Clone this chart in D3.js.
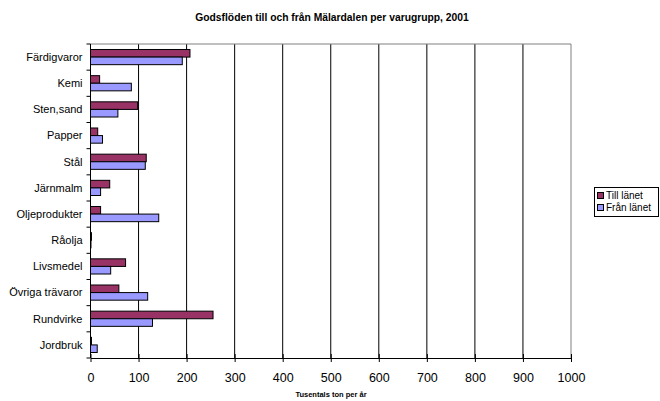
<!DOCTYPE html>
<html><head><meta charset="utf-8">
<script src="https://cdn.jsdelivr.net/npm/d3@7"></script>
<style>body{margin:0;background:#fff;} svg{display:block;font-family:Arial,"Liberation Sans",sans-serif;}</style>
</head><body>
<svg id="c" width="660" height="401"></svg>
<script>
const categories = ["Färdigvaror","Kemi","Sten,sand","Papper","Stål","Järnmalm","Oljeprodukter","Råolja","Livsmedel","Övriga trävaror","Rundvirke","Jordbruk"];
const tillLanet = [207, 19, 98, 15, 116, 40, 21, 2, 73, 59, 255, 2];
const franLanet = [191, 85, 57, 25, 114, 21, 142, 1, 42, 119, 129, 14];
const seriesNames = ["Till länet","Från länet"];
const seriesColors = ["#993366","#9999FF"];
const xTicks = [0,100,200,300,400,500,600,700,800,900,1000];

const svg = d3.select("#c");
const L = 90.5, R = 571, T = 44, B = 358;
const x = d3.scaleLinear().domain([0,1000]).range([L,R]);
const y = d3.scaleBand().domain(categories).range([T,B]).paddingInner(0.42).paddingOuter(0.21);
const sub = d3.scaleBand().domain(seriesNames).range([0,y.bandwidth()]);

// title
svg.append("text").attr("x",332).attr("y",21).attr("text-anchor","middle")
  .attr("font-size","10.3px").attr("font-weight","bold").text("Godsflöden till och från Mälardalen per varugrupp, 2001");

// gridlines
svg.append("g").selectAll("line").data(xTicks.slice(1,-1)).join("line")
  .attr("x1",d=>x(d)).attr("x2",d=>x(d)).attr("y1",T).attr("y2",B)
  .attr("stroke","#000").attr("stroke-width",1);
// plot border top/right
svg.append("path").attr("d",`M${L},${T}H${R}V${B}`).attr("fill","none").attr("stroke","#808080").attr("stroke-width",1);

// bars
const data = categories.map((c,i)=>({c, vals:[tillLanet[i], franLanet[i]]}));
const g = svg.append("g");
data.forEach(d=>{
  d.vals.forEach((v,j)=>{
    g.append("rect").attr("x",x(0)).attr("y",y(d.c)+sub(seriesNames[j]))
      .attr("width",Math.max(0,x(v)-x(0))).attr("height",sub.bandwidth())
      .attr("fill",seriesColors[j]).attr("stroke","#000").attr("stroke-width",1);
  });
});

// x axis
const xa = svg.append("g").attr("transform",`translate(0,${B})`)
  .call(d3.axisBottom(x).tickValues(xTicks).tickSize(4).tickSizeOuter(0).tickFormat(d3.format("d")));
xa.select(".domain").attr("stroke","#000");
xa.selectAll("line").attr("stroke","#000").attr("y1",-4).attr("y2",4);
xa.selectAll("text").attr("font-size","12.5px").attr("font-family","Arial,'Liberation Sans',sans-serif").attr("dy","0").attr("y",24);

// y axis
const ya = svg.append("g").attr("transform",`translate(${L},0)`);
ya.append("line").attr("x1",0).attr("x2",0).attr("y1",T).attr("y2",B).attr("stroke","#000");
const yBounds = d3.range(categories.length+1).map(i=>T+i*(B-T)/categories.length);
ya.selectAll(".tk").data(yBounds).join("line").attr("class","tk")
  .attr("x1",-4).attr("x2",0).attr("y1",d=>d).attr("y2",d=>d).attr("stroke","#000");
ya.selectAll("text").data(categories).join("text")
  .attr("x",-8).attr("y",d=>y(d)+y.bandwidth()/2).attr("dy","0.35em")
  .attr("text-anchor","end").attr("font-size","11px").text(d=>d);

// x axis title
svg.append("text").attr("x",331).attr("y",397).attr("text-anchor","middle")
  .attr("font-size","7.5px").attr("font-weight","bold").text("Tusentals ton per år");

// legend
const lg = svg.append("g");
lg.append("rect").attr("x",594.5).attr("y",187.5).attr("width",64).attr("height",29)
  .attr("fill","#fff").attr("stroke","#000");
seriesNames.forEach((n,i)=>{
  lg.append("rect").attr("x",597.5).attr("y",192.5+i*12).attr("width",6).attr("height",6)
    .attr("fill",seriesColors[i]).attr("stroke","#000");
  lg.append("text").attr("x",606).attr("y",199+i*12).attr("font-size","10px").text(n);
});
</script>
</body></html>
